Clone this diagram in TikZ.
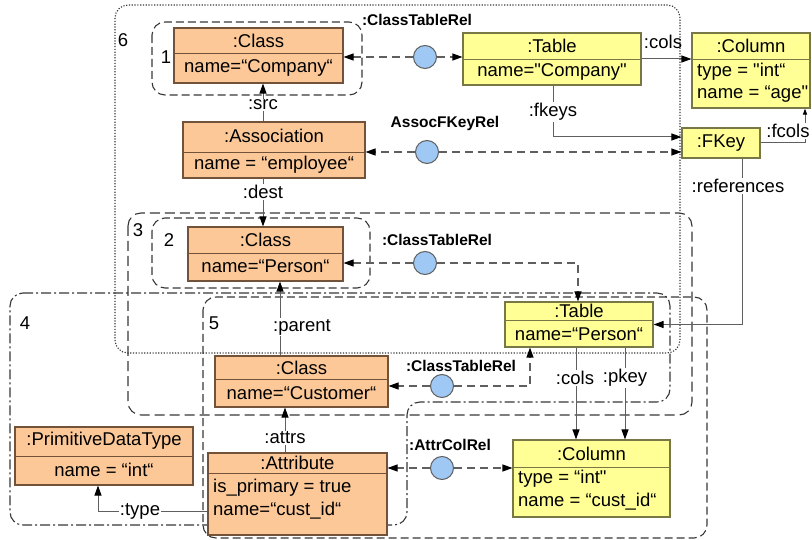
\documentclass[tikz,border=0pt]{standalone}
\usepackage{fontspec}
\setmainfont{Liberation Sans}
\setmonofont{Liberation Sans}
\usetikzlibrary{arrows.meta,calc}

\definecolor{objorange}{RGB}{252,200,152}
\definecolor{objbrown}{RGB}{115,82,58}
\definecolor{tabyellow}{RGB}{255,255,150}
\definecolor{tabolive}{RGB}{120,120,70}
\definecolor{relblue}{RGB}{160,200,245}
\definecolor{linegray}{RGB}{95,95,95}
\definecolor{reggray}{RGB}{55,55,55}

% straight double quote (the mono family carries no TeX quote mapping)
\newcommand\sq{{\ttfamily"}}

\tikzset{
  obox/.style={rectangle, draw=objbrown, fill=objorange, line width=1.1pt, inner sep=0pt},
  obox rule/.style={draw=objbrown, line width=0.9pt},
  tbox/.style={rectangle, draw=tabolive, fill=tabyellow, line width=1.1pt, inner sep=0pt},
  tbox rule/.style={draw=tabolive, line width=0.9pt},
  txt/.style={font=\fontsize{18.5}{20}\selectfont, inner sep=0pt},
  lbl/.style={txt, fill=white, inner sep=1pt},
  rellbl/.style={font=\bfseries\fontsize{15.5}{17}\selectfont, inner sep=0pt},
  rel/.style={circle, draw=linegray, fill=relblue, minimum size=23pt, inner sep=0pt, line width=1pt},
  tip/.style={-{Triangle[length=10pt,width=7pt,color=black]}},
  sline/.style={draw=linegray, line width=1pt, tip},
  dline/.style={draw=linegray, line width=1.1pt, dash pattern=on 8pt off 5pt, tip},
  regbase/.style={draw=reggray, line width=1.1pt, rounded corners=13pt},
  regdash/.style={regbase, dash pattern=on 8pt off 4pt},
  reglong/.style={regbase, dash pattern=on 10pt off 5pt},
  regdashdot/.style={regbase, dash pattern=on 10pt off 3pt on 2pt off 3pt},
  regdot/.style={regbase, dash pattern=on 1.2pt off 1.6pt}
}

% #1 name, #2 box style, #3..#6 corners, #7 y of the compartment rule
\newcommand\objbox[7]{%
  \node[#2, minimum width={(#5)-(#3)}, minimum height={(#6)-(#4)}] (#1)
    at ({((#3)+(#5))/2},{((#4)+(#6))/2}) {};
  \draw[#2 rule] (#3,#7) -- (#5,#7);}

\begin{document}
\begin{tikzpicture}[x=1pt,y=-1pt]
\useasboundingbox (0,0) rectangle (812,540);

% grouping regions
\draw[regdot] (115,5) rectangle (680,353);
\draw[regdash] (152,22) rectangle (362,95);
\draw[regdash] (152,218) rectangle (370,288);
\draw[reglong] (128,213) rectangle (692,415);
\draw[regdashdot] (10,293) -- (670,293) -- (670,402) -- (407,402) -- (407,525) -- (10,525) -- cycle;
\draw[regdash] (203,297) rectangle (707,538);

\node[txt] (n6) at (123,40) {6};
\node[txt] (n1) at (166,57) {1};
\node[txt] (n2) at (169,240) {2};
\node[txt] (n3) at (138,230) {3};
\node[txt] (n4) at (25,323) {4};
\node[txt] (n5) at (214,323) {5};

% object boxes
\objbox{cc}{obox}{174}{28}{343}{83}{53}
\node[txt] (cc-h) at (258.5,41) {:Class};
\node[txt] (cc-b) at (258.5,68) {name=“Company“};

\objbox{tc}{tbox}{463}{33}{641}{85}{59}
\node[txt] (tc-h) at (552,46) {:Table};
\node[txt] (tc-b) at (552,72) {name=\sq Company\sq};

\objbox{colt}{tbox}{692}{33}{810}{108}{59}
\node[txt] (colt-h) at (751,46) {:Column};
\node[txt, anchor=west] (colt-b1) at (697,72) {type = \sq int“};
\node[txt, anchor=west] (colt-b2) at (697,94) {name = “age\sq};

\node[tbox, minimum width=78, minimum height=30] (fkey) at (721,143) {};
\node[txt] (fkey-h) at (721,143) {:FKey};

\objbox{assoc}{obox}{183}{122}{365}{178}{152}
\node[txt] (assoc-h) at (274,136) {:Association};
\node[txt] (assoc-b) at (274,165) {name = “employee“};

\objbox{cp}{obox}{188}{227}{343}{281}{253}
\node[txt] (cp-h) at (265.5,240) {:Class};
\node[txt] (cp-b) at (265.5,266) {name=“Person“};

\objbox{tp}{tbox}{505}{302}{653}{347}{320}
\node[txt] (tp-h) at (579,311) {:Table};
\node[txt] (tp-b) at (579,334) {name=“Person“};

\objbox{ccu}{obox}{215}{356}{388}{407}{379}
\node[txt] (ccu-h) at (301.5,368) {:Class};
\node[txt] (ccu-b) at (301.5,393) {name=“Customer“};

\objbox{pdt}{obox}{15}{427}{193}{485}{456}
\node[txt] (pdt-h) at (104,441) {:PrimitiveDataType};
\node[txt] (pdt-b) at (104,470) {name = “int“};

\objbox{attr}{obox}{208}{453}{387}{535}{473}
\node[txt] (attr-h) at (297.5,463) {:Attribute};
\node[txt, anchor=west] (attr-b1) at (213,488) {is\_primary = true};
\node[txt, anchor=west] (attr-b2) at (213,511) {name=“cust\_id“};

\objbox{colb}{tbox}{513}{440}{670}{517}{467}
\node[txt] (colb-h) at (591.5,454) {:Column};
\node[txt, anchor=west] (colb-b1) at (518,479) {type = “int\sq};
\node[txt, anchor=west] (colb-b2) at (518,502) {name = “cust\_id“};

% relation instances
\node[rel] (r1) at (425,57) {};
\node[rel] (r2) at (427,152) {};
\node[rel] (r3) at (425,263) {};
\node[rel] (r4) at (442,386) {};
\node[rel] (r5) at (442,468) {};

\node[rellbl] (r1-l) at (417,20) {:ClassTableRel};
\node[rellbl] (r2-l) at (445,123) {AssocFKeyRel};
\node[rellbl] (r3-l) at (437,240) {:ClassTableRel};
\node[rellbl] (r4-l) at (461,366) {:ClassTableRel};
\node[rellbl] (r5-l) at (450,445) {:AttrColRel};

% relation links
\draw[dline] (r1) -- (r1 -| cc.east);
\draw[dline] (r1) -- (r1 -| tc.west);
\draw[dline] (r2) -- (r2 -| assoc.east);
\draw[dline] (r2) -- (r2 -| fkey.west);
\draw[dline] (r3) -- (r3 -| cp.east);
\draw[dline] (r3) -| ([xshift=-1pt]tp.north);
\draw[dline] (r4) -- (r4 -| ccu.east);
\draw[dline] (r4) -| ([xshift=-49pt]tp.south);
\draw[dline] (r5) -- (r5 -| attr.east);
\draw[dline] (r5) -- (r5 -| colb.west);

% references between objects
\draw[sline] (tc.east) -- (tc.east -| colt.west);
\node[txt] (l-cols1) at (663,42) {:cols};

\draw[sline] ([xshift=1pt]tc.south) |- ([yshift=6pt]fkey.west);
\node[lbl] (l-fkeys) at (553,112) {:fkeys};

\draw[sline, -{Triangle[length=6pt,width=4pt,color=black]}] (fkey.east) -| ([xshift=54pt]colt.south);
\node[lbl] (l-fcols) at (788,131) {:fcols};

\draw[sline] ([xshift=21pt]fkey.south) |- (tp.east);
\node[lbl] (l-refs) at (738,186) {:references};

\draw[sline] ([xshift=-11pt]assoc.north) -- ([xshift=-11pt]assoc.north |- cc.south);
\node[lbl] (l-src) at (263,105) {:src};

\draw[sline] ([xshift=-11pt]assoc.south) -- ([xshift=-11pt]assoc.south |- cp.north);
\node[lbl] (l-dest) at (263,192) {:dest};

\draw[sline] ([xshift=-21.5pt]ccu.north) -- ([xshift=-21.5pt]ccu.north |- cp.south);
\node[lbl] (l-parent) at (302,327) {:parent};

\draw[sline] ([xshift=-12.5pt]attr.north) -- ([xshift=-12.5pt]attr.north |- ccu.south);
\node[lbl] (l-attrs) at (285,438) {:attrs};

\draw[sline] ([yshift=-17pt]attr.west) -| ([xshift=-6pt]pdt.south);
\node[lbl] (l-type) at (140,511) {:type};

\draw[sline] ([xshift=-3pt]tp.south) -- ([xshift=-3pt]tp.south |- colb.north);
\node[lbl] (l-cols2) at (575,378) {:cols};

\draw[sline] ([xshift=46pt]tp.south) -- ([xshift=46pt]tp.south |- colb.north);
\node[lbl] (l-pkey) at (625,378) {:pkey};
\end{tikzpicture}
\end{document}
